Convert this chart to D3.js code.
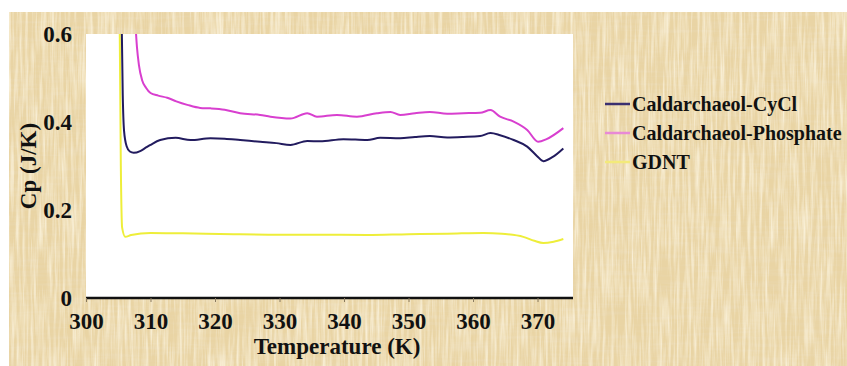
<!DOCTYPE html>
<html>
<head>
<meta charset="utf-8">
<script src="https://cdn.jsdelivr.net/npm/d3@7"></script>
<style>
  html, body { margin: 0; padding: 0; background: #fff; }
  svg { display: block; }
</style>
</head>
<body>
<div id="chrt"></div>
<script>
// series data (Temperature K, Cp J/K)
const seriesNames = ['Caldarchaeol-CyCl', 'Caldarchaeol-Phosphate', 'GDNT'];
const seriesColors = ['#221b5e', '#d83fcf', '#eeee3a'];
const legendColors = ['#3a2f70', '#e889d6', '#f3ea7a'];

const cyclT = [305.5, 305.7, 305.9, 306.3, 306.8, 307.4, 308.4, 309.2, 310.0, 311.5, 313.9, 316.2, 319.3, 321.5, 323.9, 327.0, 329.5, 331.7, 334.3, 336.3, 339.9, 343.6, 345.6, 348.7, 351.0, 353.3, 356.0, 358.5, 361.1, 362.7, 364.2, 366.3, 368.4, 369.9, 370.9, 372.3, 374.0];
const cyclCp = [0.66, 0.46, 0.38, 0.345, 0.333, 0.330, 0.334, 0.341, 0.348, 0.359, 0.364, 0.359, 0.363, 0.362, 0.359, 0.355, 0.352, 0.348, 0.357, 0.356, 0.361, 0.359, 0.364, 0.363, 0.366, 0.368, 0.365, 0.366, 0.368, 0.375, 0.370, 0.359, 0.344, 0.323, 0.311, 0.320, 0.340];

const phosT = [307.6, 307.9, 308.2, 308.7, 309.3, 310.0, 311.2, 312.6, 314.0, 315.7, 317.7, 319.3, 321.5, 323.9, 327.0, 328.6, 331.7, 334.3, 335.8, 338.9, 342.0, 345.1, 347.2, 348.7, 351.0, 353.3, 356.0, 358.5, 361.1, 362.7, 364.2, 366.3, 368.4, 370.1, 371.4, 374.0];
const phosCp = [0.64, 0.57, 0.53, 0.495, 0.478, 0.466, 0.460, 0.455, 0.447, 0.439, 0.432, 0.431, 0.428, 0.420, 0.416, 0.412, 0.408, 0.420, 0.412, 0.416, 0.412, 0.420, 0.423, 0.416, 0.420, 0.423, 0.419, 0.420, 0.421, 0.427, 0.412, 0.401, 0.382, 0.355, 0.361, 0.386];

const gdntT = [305.2, 305.4, 305.6, 306.1, 307.0, 310.0, 315.0, 322.9, 330.0, 336.0, 343.6, 350.0, 356.0, 361.6, 364.5, 367.8, 369.5, 370.9, 372.5, 374.0];
const gdntCp = [0.66, 0.30, 0.16, 0.139, 0.143, 0.148, 0.147, 0.145, 0.144, 0.144, 0.143, 0.145, 0.146, 0.148, 0.146, 0.139, 0.130, 0.125, 0.128, 0.134];

const xTicks = [300, 310, 320, 330, 340, 350, 360, 370];
const yTicks = [0, 0.2, 0.4, 0.6];
const yTickLabels = ['0', '0.2', '0.4', '0.6'];

const width = 847;
const height = 366;
const plot = { left: 86, right: 573, top: 34, bottom: 298 };
const serif = '"Liberation Serif", "Times New Roman", serif';

const chrtData = seriesNames.map((name, i) => {
  const t = [cyclT, phosT, gdntT][i];
  const v = [cyclCp, phosCp, gdntCp][i];
  return { name: name, color: seriesColors[i], legendColor: legendColors[i], points: t.map((d, j) => ({ t: d, v: v[j] })) };
});

const scaleX = d3.scaleLinear().domain([300, 375.5]).range([plot.left, plot.right]);
const scaleY = d3.scaleLinear().domain([0, 0.6]).range([plot.bottom, plot.top]);

const svg = d3.select('#chrt').append('svg')
    .attr('width', width)
    .attr('height', height);

// parchment texture
const defs = svg.append('defs');
const paper = defs.append('filter').attr('id', 'paper')
    .attr('x', 0).attr('y', 0).attr('width', '100%').attr('height', '100%');
paper.append('feTurbulence').attr('type', 'fractalNoise')
    .attr('baseFrequency', '0.35 0.02').attr('numOctaves', 3).attr('seed', 4).attr('result', 'nv');
paper.append('feColorMatrix').attr('in', 'nv').attr('type', 'matrix')
    .attr('values', '0 0 0 0 0.98  0 0 0 0 0.92  0 0 0 0 0.76  1.6 0 0 0 -0.6').attr('result', 'light');
paper.append('feTurbulence').attr('type', 'fractalNoise')
    .attr('baseFrequency', '0.02 0.3').attr('numOctaves', 3).attr('seed', 9).attr('result', 'nh');
paper.append('feColorMatrix').attr('in', 'nh').attr('type', 'matrix')
    .attr('values', '0 0 0 0 0.82  0 0 0 0 0.69  0 0 0 0 0.45  1.3 0 0 0 -0.55').attr('result', 'dark');
const merge = paper.append('feMerge');
merge.append('feMergeNode').attr('in', 'dark');
merge.append('feMergeNode').attr('in', 'light');

defs.append('clipPath').attr('id', 'plotClip')
    .append('rect')
    .attr('x', plot.left).attr('y', plot.top)
    .attr('width', plot.right - plot.left).attr('height', plot.bottom - plot.top);

svg.append('rect')
    .attr('x', 9).attr('y', 12)
    .attr('width', width - 9).attr('height', height - 12)
    .attr('fill', '#e9d4a4');
svg.append('rect')
    .attr('x', 9).attr('y', 12)
    .attr('width', width - 9).attr('height', height - 12)
    .attr('filter', 'url(#paper)');

// plot area
svg.append('rect')
    .attr('x', plot.left).attr('y', plot.top)
    .attr('width', plot.right - plot.left).attr('height', plot.bottom - plot.top)
    .attr('fill', '#ffffff');

// series lines
const lineGen = d3.line()
    .x((d) => scaleX(d.t))
    .y((d) => scaleY(d.v))
    .curve(d3.curveMonotoneX);

svg.append('g').attr('clip-path', 'url(#plotClip)')
    .selectAll('path')
    .data(chrtData.slice().reverse())
    .enter().append('path')
    .attr('fill', 'none')
    .attr('stroke', (d) => d.color)
    .attr('stroke-width', 2)
    .attr('stroke-linejoin', 'round')
    .attr('d', (d) => lineGen(d.points));

// x axis
const xAxis = svg.append('g')
    .attr('transform', 'translate(0,' + plot.bottom + ')')
    .call(d3.axisBottom(scaleX).tickValues(xTicks).tickSize(4).tickPadding(11).tickFormat(d3.format('d')));
xAxis.select('.domain').attr('stroke', '#111').attr('stroke-width', 2.5)
    .attr('d', 'M' + plot.left + ',0H' + plot.right);
xAxis.selectAll('.tick line').attr('stroke', '#8a7a60');
xAxis.selectAll('.tick text')
    .attr('fill', '#111')
    .style('font-family', serif).style('font-size', '23px').style('font-weight', 'bold');

// y tick labels (no visible axis line)
svg.append('g').selectAll('text')
    .data(yTicks)
    .enter().append('text')
    .attr('x', 72)
    .attr('y', (d) => scaleY(d))
    .attr('dy', '0.35em')
    .attr('text-anchor', 'end')
    .attr('fill', '#111')
    .style('font-family', serif).style('font-size', '23px').style('font-weight', 'bold')
    .text((d, i) => yTickLabels[i]);

// axis titles
svg.append('text')
    .attr('x', 337).attr('y', 354)
    .attr('text-anchor', 'middle')
    .attr('fill', '#111')
    .style('font-family', serif).style('font-size', '23px').style('font-weight', 'bold')
    .text('Temperature (K)');

svg.append('text')
    .attr('transform', 'translate(36,166) rotate(-90)')
    .attr('text-anchor', 'middle')
    .attr('fill', '#111')
    .style('font-family', serif).style('font-size', '23px').style('font-weight', 'bold')
    .text('Cp (J/K)');

// legend
const legend = svg.append('g').selectAll('g')
    .data(chrtData)
    .enter().append('g')
    .attr('transform', (d, i) => 'translate(605,' + (104 + i * 29) + ')');
legend.append('line')
    .attr('x1', 0).attr('x2', 25)
    .attr('stroke', (d) => d.legendColor)
    .attr('stroke-width', 2.5);
legend.append('text')
    .attr('x', 27)
    .attr('dy', '0.35em')
    .attr('fill', '#111')
    .style('font-family', serif).style('font-size', '20px').style('font-weight', 'bold')
    .text((d) => d.name);
</script>
</body>
</html>
